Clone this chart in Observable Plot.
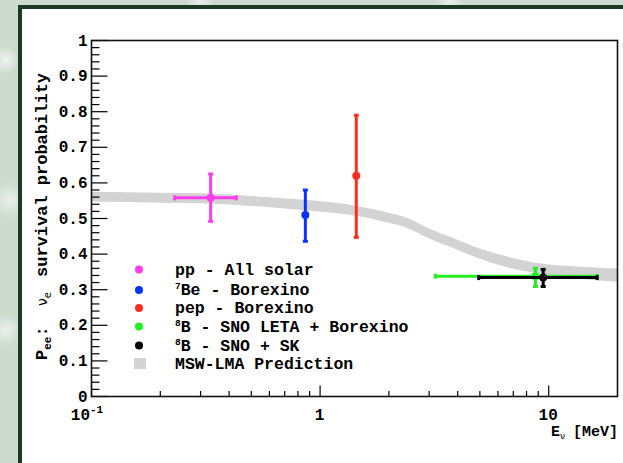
<!DOCTYPE html>
<html><head><meta charset="utf-8">
<script src="https://cdn.jsdelivr.net/npm/d3@7"></script>
<script src="https://cdn.jsdelivr.net/npm/@observablehq/plot@0.6"></script>
<style>
html,body{margin:0;padding:0;width:623px;height:463px;overflow:hidden;}
body{position:relative;background:
 radial-gradient(circle at 5px 60px, rgba(255,255,255,0.7) 0, rgba(255,255,255,0) 14px),
 radial-gradient(circle at 10px 200px, rgba(255,255,255,0.6) 0, rgba(255,255,255,0) 18px),
 radial-gradient(circle at 6px 330px, rgba(255,255,255,0.6) 0, rgba(255,255,255,0) 16px),
 radial-gradient(circle at 200px 0px, rgba(255,255,255,0.6) 0, rgba(255,255,255,0) 14px),
 radial-gradient(circle at 450px 2px, rgba(255,255,255,0.6) 0, rgba(255,255,255,0) 14px),
 #cddbcf;}
#panel{position:absolute;left:18px;top:5px;width:700px;height:600px;border:4px solid #1b3a26;background:#fff;box-sizing:content-box;}
#chart{position:absolute;left:0;top:0;}
#chart svg{background:transparent;}
</style></head><body><div id="panel"></div><div id="chart"></div>
<script>
// ---- data ----
const series   = ["pp - All solar", "7Be - Borexino", "pep - Borexino", "8B - SNO LETA + Borexino", "8B - SNO + SK"];
const energy   = [0.332, 0.862, 1.44, 8.75, 9.46];
const prob     = [0.558, 0.51, 0.62, 0.338, 0.334];
const probLow  = [0.492, 0.436, 0.447, 0.309, 0.309];
const probHigh = [0.625, 0.58, 0.79, 0.36, 0.357];
const eLow     = [0.231, null, null, 3.19, 4.94];
const eHigh    = [0.43, null, null, 16.3, 16.3];
const colors   = ["#ff3cf0", "#0a32ff", "#ff2d1f", "#22f022", "#000000"];

const bandE    = [0.1, 0.2, 0.33, 0.5, 0.86, 1.2, 1.45, 1.9, 2.5, 3.0, 4.0, 5.0, 6.5, 8.3, 11, 14, 20];
const bandLow  = [0.546,0.543,0.541,0.534,0.522,0.513,0.506,0.490,0.468,0.443,0.411,0.386,0.363,0.348,0.336,0.329,0.321];
const bandHigh = [0.574,0.571,0.569,0.562,0.551,0.542,0.534,0.518,0.496,0.471,0.439,0.414,0.393,0.377,0.367,0.363,0.358];

const yTickValues = [0,0.1,0.2,0.3,0.4,0.5,0.6,0.7,0.8,0.9,1];
const yTickLabels = ["0","0.1","0.2","0.3","0.4","0.5","0.6","0.7","0.8","0.9","1"];
const xMajor = [0.1, 1, 10];
const xTickLabels = ["10", "1", "10"];
const xMinor = [0.2,0.3,0.4,0.5,0.6,0.7,0.8,0.9,2,3,4,5,6,7,8,9];
const yMinor = d3.range(0, 1.0001, 0.02).filter(v => Math.abs(v*10 - Math.round(v*10)) > 1e-6);

// ---- tables ----
const points = series.map((s,i)=>({name:s, e:energy[i], p:prob[i], lo:probLow[i], hi:probHigh[i], eLo:eLow[i], eHi:eHigh[i], color:colors[i]}));
const band = bandE.map((e,i)=>({e, lo:bandLow[i], hi:bandHigh[i]}));
const yTicks = yTickValues.map((v,i)=>({v, label:yTickLabels[i]}));

const ySym = len => ({draw(ctx){ctx.moveTo(0,0); ctx.lineTo(len,0);}});
const xSym = len => ({draw(ctx){ctx.moveTo(0,0); ctx.lineTo(0,-len);}});
const hCap = {draw(ctx){ctx.moveTo(-2.5,0); ctx.lineTo(2.5,0);}};
const vCap = {draw(ctx){ctx.moveTo(0,-2.5); ctx.lineTo(0,2.5);}};

const seriesMarks = points.flatMap(d => {
  const m = [
    Plot.ruleX([d], {x:"e", y1:"lo", y2:"hi", stroke: d.color, strokeWidth: 3}),
    Plot.dot([d], {x:"e", y:"lo", symbol:hCap, r:1, fill:"none", stroke:d.color, strokeWidth:3}),
    Plot.dot([d], {x:"e", y:"hi", symbol:hCap, r:1, fill:"none", stroke:d.color, strokeWidth:3})
  ];
  if (d.eLo != null) {
    m.push(Plot.ruleY([d], {y:"p", x1:"eLo", x2:"eHi", stroke:d.color, strokeWidth:3}));
    m.push(Plot.dot([d], {x:"eLo", y:"p", symbol:vCap, r:1, fill:"none", stroke:d.color, strokeWidth:3}));
    m.push(Plot.dot([d], {x:"eHi", y:"p", symbol:vCap, r:1, fill:"none", stroke:d.color, strokeWidth:3}));
  }
  m.push(Plot.dot([d], {x:"e", y:"p", r:4, fill:d.color, stroke:"none"}));
  return m;
});

const F = "Liberation Mono";
const fig = Plot.plot({
  width: 623, height: 463,
  marginLeft: 91, marginRight: 6, marginTop: 40, marginBottom: 67,
  style: {background:"transparent", overflow:"visible", fontFamily:F},
  x: {type:"log", domain:[0.1, 20], axis:null},
  y: {domain:[0,1], axis:null},
  marks: [
    Plot.areaY(band, {x:"e", y1:"lo", y2:"hi", fill:"#d3d3d3", curve:"monotone-x"}),
    ...seriesMarks,
    Plot.dot(yTickValues, {y:d=>d, frameAnchor:"left", symbol:ySym(16), r:1, fill:"none", stroke:"black", strokeWidth:1.2}),
    Plot.dot(yMinor, {y:d=>d, frameAnchor:"left", symbol:ySym(8), r:1, fill:"none", stroke:"black", strokeWidth:1.2}),
    Plot.dot(xMajor, {x:d=>d, frameAnchor:"bottom", symbol:xSym(11), r:1, fill:"none", stroke:"black", strokeWidth:1.2}),
    Plot.dot(xMinor, {x:d=>d, frameAnchor:"bottom", symbol:xSym(5.5), r:1, fill:"none", stroke:"black", strokeWidth:1.2}),
    Plot.frame({stroke:"#111", strokeWidth:1.6}),
    Plot.text(yTicks, {y:"v", text:"label", frameAnchor:"left", dx:-4, textAnchor:"end", fontSize:16, fontWeight:"bold", fontFamily:F, fill:"black"})
  ]
});
document.getElementById("chart").appendChild(fig);

const svg = d3.select(fig);
const xs = fig.scale("x"), ysc = fig.scale("y");
const baseY = ysc.apply(0);

// x tick labels
xMajor.forEach((v,i) => {
  const t = svg.append("text").attr("x", xs.apply(v) - (i===0 ? 4 : 0)).attr("y", baseY + 24)
    .attr("text-anchor","middle").attr("font-family",F).attr("font-weight","bold").attr("font-size",16);
  t.append("tspan").text(xTickLabels[i]);
  if (i === 0) t.append("tspan").attr("font-size",11).attr("dy",-7).text("-1");
});

// x title
const xt = svg.append("text").attr("x", 618).attr("y", baseY + 40).attr("text-anchor","end")
  .attr("font-family",F).attr("font-weight","bold").attr("font-size",15);
xt.append("tspan").text("E");
xt.append("tspan").attr("font-size",9).attr("dy",3).attr("font-family","DejaVu Sans").attr("font-weight","normal").text("ν");
xt.append("tspan").attr("dy",-3).attr("dx",8).text("[MeV]");

// y title
const yt1 = svg.append("text").attr("transform","translate(47,360) rotate(-90)").attr("text-anchor","start")
  .attr("font-family",F).attr("font-weight","bold").attr("font-size",17);
yt1.append("tspan").text("P");
yt1.append("tspan").attr("font-size",11).attr("dy",4).text("ee");
yt1.append("tspan").attr("dy",-4).text(":");
const yt2 = svg.append("text").attr("transform","translate(47,306) rotate(-90)").attr("text-anchor","start")
  .attr("font-family","DejaVu Sans").attr("font-size",14);
yt2.append("tspan").text("ν");
yt2.append("tspan").attr("font-size",10).attr("dy",4).text("e");
svg.append("text").attr("transform","translate(47,277) rotate(-90)").attr("text-anchor","start")
  .attr("font-family",F).attr("font-weight","bold").attr("font-size",17).text("survival probability");

// legend
const legRows = [269.5, 290, 308, 326.5, 345.5];
const legMain = ["pp - All solar", "Be - Borexino", "pep - Borexino", "B - SNO LETA + Borexino", "B - SNO + SK"];
const legSup  = [null, "7", null, "8", "8"];
points.forEach((d,i) => {
  svg.append("circle").attr("cx",139).attr("cy",legRows[i]).attr("r",4).attr("fill",d.color);
  const t = svg.append("text").attr("x",175).attr("y",legRows[i]+5).attr("text-anchor","start")
    .attr("font-family",F).attr("font-weight","bold").attr("font-size",16.5);
  if (legSup[i]) { t.append("tspan").attr("font-size",9.5).attr("dy",-6).text(legSup[i]); t.append("tspan").attr("dy",6).text(legMain[i]); }
  else t.text(legMain[i]);
});
svg.append("rect").attr("x",134).attr("y",358).attr("width",12).attr("height",11).attr("fill","#d3d3d3");
svg.append("text").attr("x",175).attr("y",368.5).attr("text-anchor","start").attr("font-family",F).attr("font-weight","bold").attr("font-size",16.5).text("MSW-LMA Prediction");
</script></body></html>
